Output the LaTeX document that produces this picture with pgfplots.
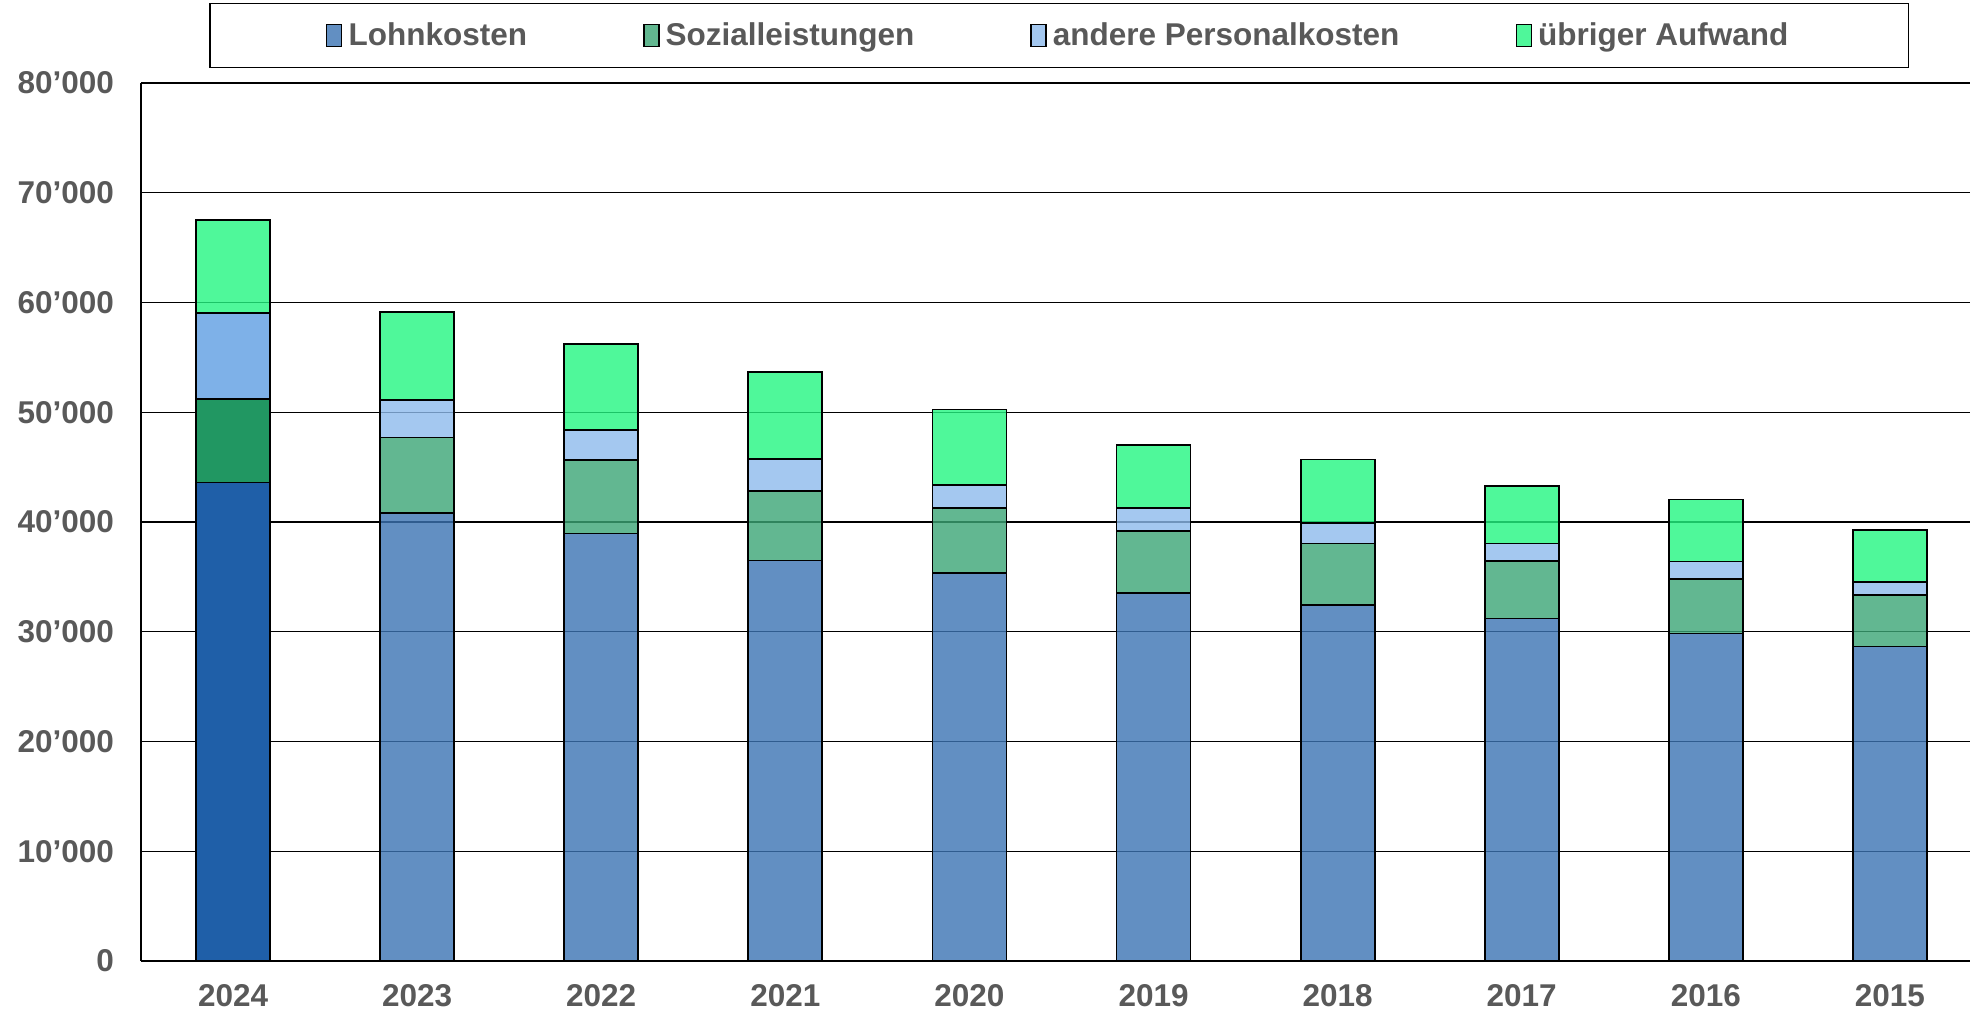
\documentclass[border=0pt]{standalone}
\usepackage{pgfplots}
\pgfplotsset{compat=1.18}
\usepackage{fontspec}
\setmainfont{Liberation Sans}
\definecolor{txt}{HTML}{595959}
\definecolor{lohnL}{RGB}{59,115,179}
\definecolor{lohnD}{HTML}{1F5FA8}
\definecolor{sozL}{RGB}{59,165,117}
\definecolor{sozD}{HTML}{219762}
\definecolor{andL}{RGB}{141,186,236}
\definecolor{andD}{HTML}{7EB1E8}
\definecolor{ueb}{RGB}{35,246,129}
\begin{document}
\begin{tikzpicture}
\useasboundingbox (-70.5pt,-26.4pt) rectangle (914.5pt,480.5pt);
\begin{axis}[
  at={(0,0)}, anchor=south west,
  scale only axis, width=914.5pt, height=439pt,
  ybar stacked, bar width=37pt,
  xmin=-0.5, xmax=9.435, ymin=0, ymax=80000,
  scaled y ticks=false,
  xtick={0,1,2,3,4,5,6,7,8,9},
  xticklabels={2024,2023,2022,2021,2020,2019,2018,2017,2016,2015},
  ytick={0,10000,20000,30000,40000,50000,60000,70000,80000},
  yticklabels={0,10’000,20’000,30’000,40’000,50’000,60’000,70’000,80’000},
  axis x line*=bottom, axis y line*=left,
  axis line style={line width=1pt,-},
  ymajorgrids, grid style={black, line width=0.7pt},
  major tick length=0pt,
  tick label style={font=\bfseries\fontsize{15.75}{18}\selectfont, text=txt},
  xticklabel style={yshift=-8pt},
  yticklabel style={xshift=-10pt},
  every axis plot/.append style={draw=black, line width=0.9pt},
  legend image code/.code={\draw[#1,line width=0.75pt] (0pt,-5.5pt) rectangle (7.5pt,5.5pt); \path (8.5pt,0pt);},
  legend columns=4,
  legend style={at={(0.502,1)}, anchor=south, yshift=7.5pt,
    draw=black, line width=0.75pt, inner xsep=58pt, inner ysep=7.5pt,
    font=\bfseries\fontsize{15.75}{18}\selectfont, text=txt,
    /tikz/every even column/.append style={column sep=56pt}},
]
\addplot[fill=lohnL, fill opacity=0.8] coordinates {(0,0) (1,40850) (2,38950) (3,36500) (4,35350) (5,33500) (6,32450) (7,31200) (8,29850) (9,28650)};
\addlegendentry{Lohnkosten}
\addplot[fill=lohnD, forget plot] coordinates {(0,43600) (1,0) (2,0) (3,0) (4,0) (5,0) (6,0) (7,0) (8,0) (9,0)};
\addplot[fill=sozL, fill opacity=0.8] coordinates {(0,0) (1,6850) (2,6700) (3,6300) (4,5950) (5,5650) (6,5600) (7,5250) (8,4950) (9,4700)};
\addlegendentry{Sozialleistungen}
\addplot[fill=sozD, forget plot] coordinates {(0,7600) (1,0) (2,0) (3,0) (4,0) (5,0) (6,0) (7,0) (8,0) (9,0)};
\addplot[fill=andL, fill opacity=0.8] coordinates {(0,0) (1,3400) (2,2750) (3,2950) (4,2050) (5,2150) (6,1850) (7,1600) (8,1600) (9,1200)};
\addlegendentry{andere Personalkosten}
\addplot[fill=andD, forget plot] coordinates {(0,7850) (1,0) (2,0) (3,0) (4,0) (5,0) (6,0) (7,0) (8,0) (9,0)};
\addplot[fill=ueb, fill opacity=0.8] coordinates {(0,8500) (1,8050) (2,7800) (3,7900) (4,6900) (5,5750) (6,5800) (7,5250) (8,5650) (9,4750)};
\addlegendentry{übriger Aufwand}
\end{axis}
\end{tikzpicture}
\end{document}
